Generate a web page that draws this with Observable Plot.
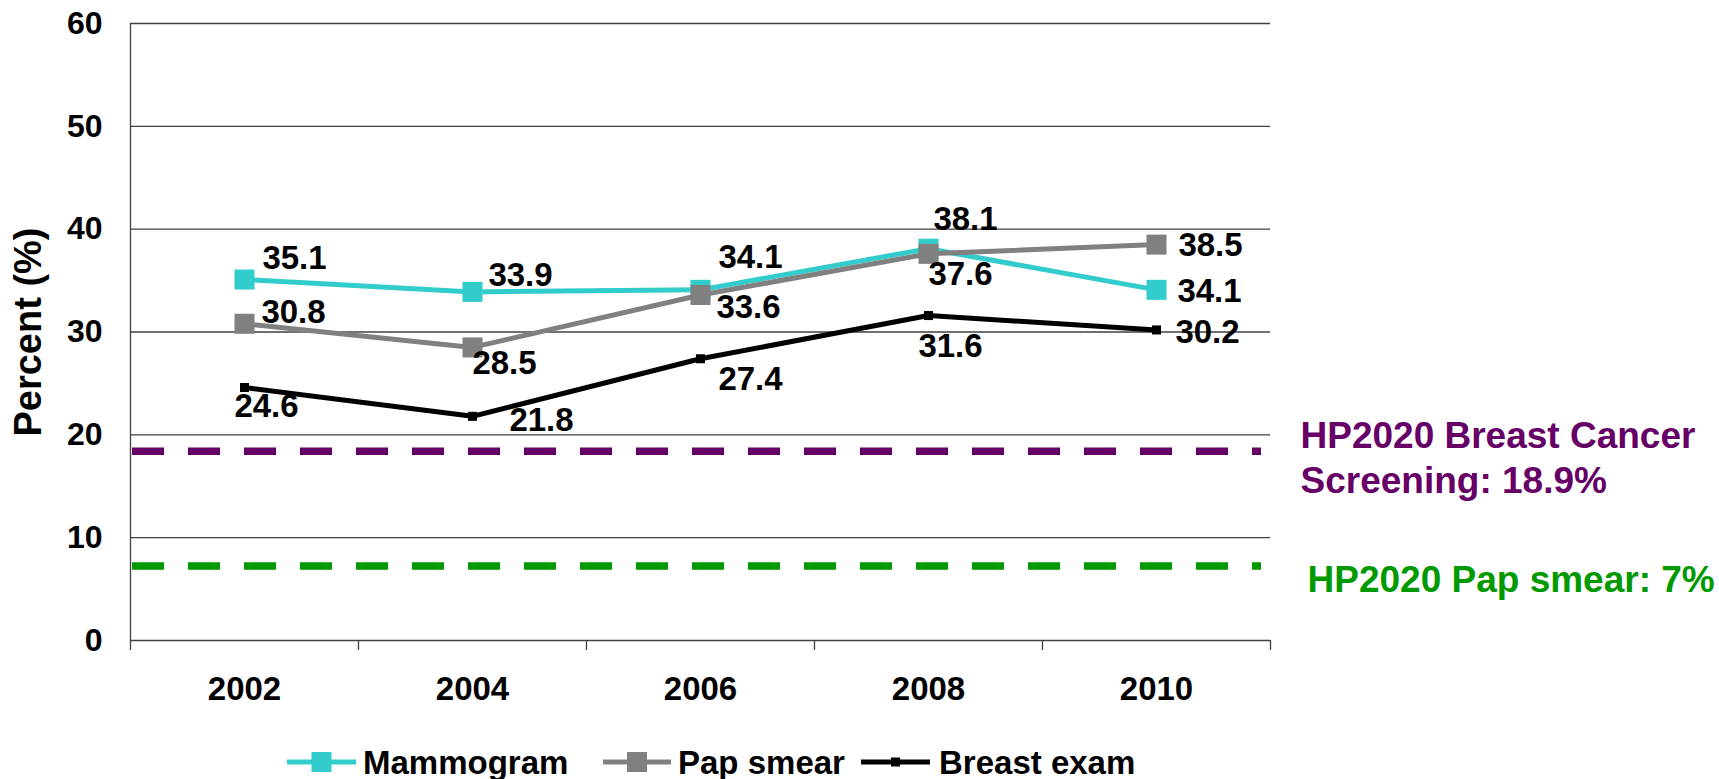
<!DOCTYPE html>
<html>
<head>
<meta charset="utf-8">
<script src="https://cdn.jsdelivr.net/npm/d3@7"></script>
<script src="https://cdn.jsdelivr.net/npm/@observablehq/plot@0.6"></script>
<style>
  html, body { margin: 0; padding: 0; background: #fff; }
  body { width: 1719px; height: 779px; overflow: hidden; font-family: "Liberation Sans", Arial, Helvetica, sans-serif; font-weight: bold; }
  #legend svg { display: block; }
</style>
</head>
<body>
<div id="chart"></div>
<div id="legend"></div>
<script>
// ---- data ----
const years = [2002, 2004, 2006, 2008, 2010];
const mammogram = [35.1, 33.9, 34.1, 38.1, 34.1];
const papSmear = [30.8, 28.5, 33.6, 37.6, 38.5];
const breastExam = [24.6, 21.8, 27.4, 31.6, 30.2];
const seriesNames = ["Mammogram", "Pap smear", "Breast exam"];
const yTicks = [0, 10, 20, 30, 40, 50, 60];
const bandEdges = [2001, 2003, 2005, 2007, 2009, 2011];
const targetValues = [18.4, 7.25];           // positions of the dashed lines as drawn
const targetLabels = ["HP2020 Breast Cancer\nScreening: 18.9%", "HP2020 Pap smear: 7%"];

// ---- styles / layout ----
const seriesColors = ["#33CCCC", "#808080", "#000000"];
const markerR = [11.3, 11.3, 5.1];
const targetColors = ["#660066", "#009900"];
const targetLabelOffset = [[30, 5], [37, 12]];
const labelOffsets = [
  [[50, -21], [48, -16], [50, -32], [37, -29], [53, 2]],
  [[49, -11], [32, 16], [48, 12], [32, 21], [54, 1]],
  [[22, 19], [69, 4], [50, 21], [22, 31], [51, 2]]
];
const FONT = "'Liberation Sans', Arial, Helvetica, sans-serif";
const GRID = "#404040";

const seriesValues = [mammogram, papSmear, breastExam];
const rows = [];
seriesNames.forEach((s, k) => years.forEach((yr, i) => rows.push({series: s, k, i, year: yr, value: seriesValues[k][i]})));

const marks = [
  Plot.ruleY(yTicks, {stroke: GRID, strokeWidth: 1.3}),
  Plot.ruleX([bandEdges[0]], {y1: 0, y2: 60, stroke: GRID, strokeWidth: 1.3}),
  Plot.axisX(bandEdges, {tickSize: 10, tickFormat: () => "", stroke: GRID, strokeWidth: 1.3, label: null}),
  Plot.axisX(years, {tickSize: 0, tickPadding: 36, tickFormat: "d", fontSize: 33, fontWeight: "bold", fill: "black", label: null}),
  Plot.axisY(yTicks, {tickSize: 0, tickPadding: 28, fontSize: 32, fontWeight: "bold", fill: "black", label: null}),
  Plot.text(["Percent (%)"], {text: d => d, frameAnchor: "left", textAnchor: "middle", lineAnchor: "middle", rotate: -90, dx: -102, fontSize: 38, fontWeight: "bold", fill: "black"})
];

targetValues.forEach((v, j) => {
  marks.push(Plot.ruleY([v], {stroke: targetColors[j], strokeWidth: 7.5, strokeDasharray: "32,24", insetLeft: 2, insetRight: 9}));
  marks.push(Plot.text([v], {y: d => d, text: () => targetLabels[j], frameAnchor: "right", textAnchor: "start",
    dx: targetLabelOffset[j][0], dy: targetLabelOffset[j][1], fill: targetColors[j], fontSize: 37, fontWeight: "bold", lineHeight: 1.22}));
});

seriesNames.forEach((s, k) => {
  const d = rows.filter(r => r.k === k);
  marks.push(Plot.line(d, {x: "year", y: "value", stroke: seriesColors[k], strokeWidth: 5}));
  marks.push(Plot.dot(d, {x: "year", y: "value", symbol: "square", r: markerR[k], fill: seriesColors[k], stroke: "none"}));
});

rows.forEach(r => {
  const [dx, dy] = labelOffsets[r.k][r.i];
  marks.push(Plot.text([r], {x: "year", y: "value", text: d => d.value.toFixed(1), dx, dy, fontSize: 33, fontWeight: "bold", fill: "black"}));
});

const chart = Plot.plot({
  width: 1719,
  height: 735,
  marginLeft: 130,
  marginRight: 449,
  marginTop: 23,
  marginBottom: 95,
  x: {type: "linear", domain: [2001, 2011], axis: null},
  y: {domain: [0, 60], axis: null},
  style: {fontFamily: FONT, fontWeight: "bold", color: "black", background: "white", overflow: "visible"},
  marks
});
document.getElementById("chart").appendChild(chart);

// ---- legend (below the plot) ----
const legendItems = [
  {name: seriesNames[0], color: seriesColors[0], x1: 287, x2: 356, side: 20, tx: 363},
  {name: seriesNames[1], color: seriesColors[1], x1: 603, x2: 671, side: 20, tx: 678},
  {name: seriesNames[2], color: seriesColors[2], x1: 861, x2: 930, side: 9, tx: 939}
];
const lg = d3.select("#legend").append("svg").attr("width", 1719).attr("height", 44);
const ly = 27;
legendItems.forEach(it => {
  const g = lg.append("g");
  g.append("line").attr("x1", it.x1).attr("x2", it.x2).attr("y1", ly).attr("y2", ly)
    .attr("stroke", it.color).attr("stroke-width", 5);
  const cx = (it.x1 + it.x2) / 2;
  g.append("rect").attr("x", cx - it.side / 2).attr("y", ly - it.side / 2)
    .attr("width", it.side).attr("height", it.side).attr("fill", it.color);
  g.append("text").attr("x", it.tx).attr("y", ly).attr("dominant-baseline", "central")
    .attr("font-family", FONT).attr("font-weight", "bold").attr("font-size", 33).attr("fill", "black")
    .text(it.name);
});
</script>
</body>
</html>
